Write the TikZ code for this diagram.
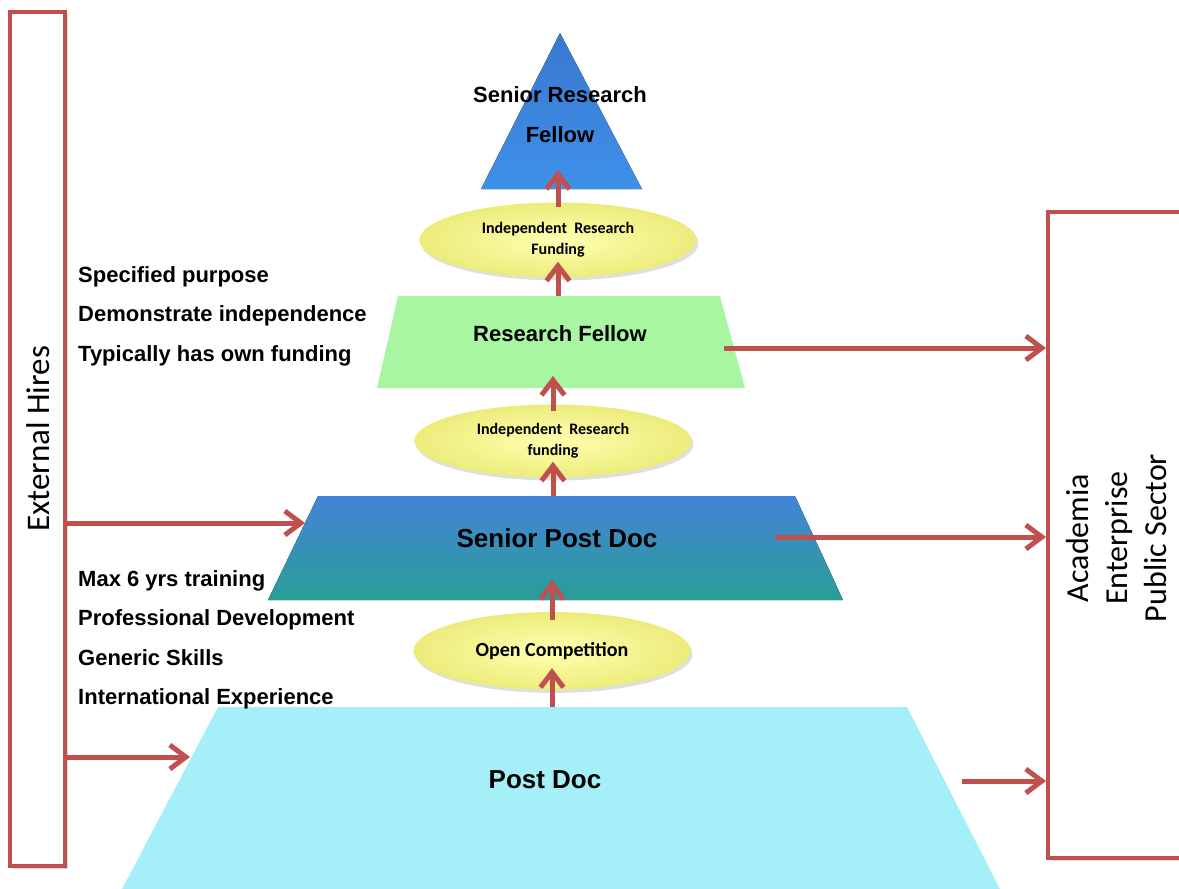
\documentclass[tikz,border=0pt]{standalone}
\usepackage{fontspec}
\setmainfont{Liberation Sans}
\newfontfamily\calfont{Carlito}
\usetikzlibrary{arrows.meta,shadows,shapes.geometric,positioning}

\definecolor{boxred}{HTML}{C0504D}
\definecolor{srftop}{HTML}{3A78CF}
\definecolor{srfbot}{HTML}{3E90EA}
\definecolor{rfgreen}{HTML}{A8F5A2}
\definecolor{spdtop}{HTML}{4383D8}
\definecolor{spdbot}{HTML}{2A9E96}
\definecolor{pdcyan}{HTML}{A5EFF8}
\definecolor{gateinner}{HTML}{FFFFB0}
\definecolor{gateouter}{HTML}{ECEC7C}

\tikzset{
  frame/.style={draw=boxred, line width=4pt, fill=white,
    drop shadow={shadow xshift=3pt, shadow yshift=-3pt, opacity=0.3}},
  gate/.style={ellipse, inner sep=0pt, minimum width=277pt, minimum height=75pt,
    shading=radial, inner color=gateinner, outer color=gateouter,
    drop shadow={shadow xshift=2pt, shadow yshift=-3pt, opacity=0.25},
    align=center, font=\calfont\bfseries\fontsize{16}{21}\selectfont},
  tier/.style={inner sep=0pt, font=\bfseries\fontsize{26}{30}\selectfont},
  tiersmall/.style={inner sep=0pt, align=center, font=\bfseries\fontsize{22}{40}\selectfont},
  note/.style={inner sep=0pt, anchor=west, align=left, font=\bfseries\fontsize{22}{39.5}\selectfont},
  side/.style={inner sep=0pt, rotate=90, align=center, font=\calfont\fontsize{32}{39}\selectfont},
  up/.style={draw=boxred, line width=5pt, -{Straight Barb[length=15pt,width=23pt]}, shorten >=-20pt},
  across/.style={draw=boxred, line width=5pt, -{Straight Barb[length=16pt,width=24pt]}}
}

\begin{document}
\begin{tikzpicture}[x=1pt, y=-1pt]
  \useasboundingbox (0,0) rectangle (1179,889);

  % outer boxes
  \node[frame, minimum width=55pt, minimum height=854pt] (eh) at (37.5,439) {};
  \node[side, font=\calfont\fontsize{33}{39}\selectfont] (ehtext) at (38,439) {External Hires};
  \node[frame, minimum width=152pt, minimum height=646pt] (aep) at (1124,535) {};
  \node[side] (aeptext) at (1116,538) {Academia\\Enterprise\\Public Sector};

  % pyramid levels
  \fill[top color=srftop, bottom color=srfbot] (481,189) -- (560,33) -- (642,189) -- cycle;
  \fill[rfgreen] (377,388) -- (398,296) -- (720,296) -- (745,388) -- cycle;
  \fill[top color=spdtop, bottom color=spdbot] (268,600) -- (318,496) -- (795,496) -- (843,600) -- cycle;
  \fill[pdcyan] (122,889) -- (218,707) -- (907,707) -- (1000,889) -- cycle;

  \coordinate (srfbase) at (558,189);
  \coordinate (rftop) at (558,296);
  \coordinate (rfbase) at (553,388);
  \coordinate (spdtop) at (553,496);
  \coordinate (spdbase) at (552,600);
  \coordinate (pdtop) at (552,707);
  \coordinate (spdleft) at (305,523);
  \coordinate (pdleft) at (190,757);
  \coordinate (rfout) at (724,348);
  \coordinate (spdout) at (775,537);
  \coordinate (pdout) at (962,781);

  \node[tiersmall] (srf) at (560,115) {Senior Research\\Fellow};
  \node[tiersmall] (rf) at (560,334) {Research Fellow};
  \node[tier] (spd) at (557,538) {Senior Post Doc};
  \node[tier] (pd) at (545,780) {Post Doc};

  % gates between levels
  \node[gate] (irf1) at (558,240) {Independent~ Research\\Funding};
  \node[gate, minimum height=73pt] (irf2) at (553,441) {Independent~ Research\\funding};
  \node[gate, minimum height=78pt, font=\calfont\bfseries\fontsize{20}{24}\selectfont] (oc) at (552,651) {Open Competition};

  % notes
  \node[note] (purpose) at (78,316) {Specified purpose\\Demonstrate independence\\Typically has own funding};
  \node[note] (training) at (78,640) {Max 6 yrs training\\Professional Development\\Generic Skills\\International Experience};

  % progression
  \draw[up, shorten >=-22pt] (pdtop) -- (oc.south);
  \draw[up, shorten <=-8pt] (oc.north) -- (spdbase);
  \draw[up, shorten >=-16pt] (spdtop) -- (irf2.south);
  \draw[up, shorten <=-7pt, shorten >=-12pt] (irf2.north) -- (rfbase);
  \draw[up, shorten >=-16pt] (rftop) -- (irf1.south);
  \draw[up, shorten <=-5pt, shorten >=-19pt] (irf1.north) -- (srfbase);

  % in and out
  \draw[across] (eh.east |- spdleft) -- (spdleft);
  \draw[across] (eh.east |- pdleft) -- (pdleft);
  \draw[across] (rfout) -- (rfout -| aep.west);
  \draw[across] (spdout) -- (spdout -| aep.west);
  \draw[across] (pdout) -- (pdout -| aep.west);
\end{tikzpicture}
\end{document}
